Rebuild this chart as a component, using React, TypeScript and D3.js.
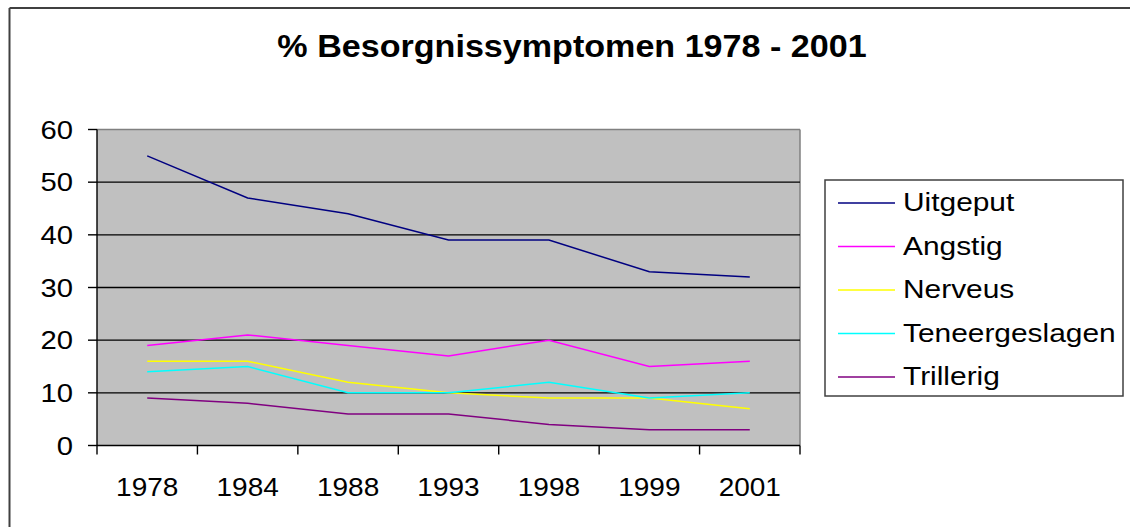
import React from "react";
import * as d3 from "d3";

const years = ["1978", "1984", "1988", "1993", "1998", "1999", "2001"];
const uitgeput = [55, 47, 44, 39, 39, 33, 32];
const angstig = [19, 21, 19, 17, 20, 15, 16];
const nerveus = [16, 16, 12, 10, 9, 9, 7];
const teneergeslagen = [14, 15, 10, 10, 12, 9, 10];
const trillerig = [9, 8, 6, 6, 4, 3, 3];
const yTicks = [0, 10, 20, 30, 40, 50, 60];
const seriesNames = ["Uitgeput", "Angstig", "Nerveus", "Teneergeslagen", "Trillerig"];
const seriesColors = ["#000080", "#FF00FF", "#FFFF00", "#00FFFF", "#800080"];
const title = "% Besorgnissymptomen 1978 - 2001";

const seriesValues = [uitgeput, angstig, nerveus, teneergeslagen, trillerig];

const W = 1130;
const H = 527;
const plot = { left: 97, right: 800, top: 129.5, bottom: 445.5 };
const FONT = "'Liberation Sans', Arial, sans-serif";
const SX = 1.14;

function SText(props: {
  x: number;
  y: number;
  size: number;
  anchor?: string;
  weight?: string | number;
  children: React.ReactNode;
  sx?: number;
}) {
  const { x, y, size, anchor = "start", weight = "normal", children, sx = SX } = props;
  return (
    <text
      transform={`translate(${x},${y}) scale(${sx},1)`}
      fontFamily={FONT}
      fontSize={size}
      fontWeight={weight}
      textAnchor={anchor as any}
      fill="#000"
    >
      {children}
    </text>
  );
}

export default function App() {
  const x = d3.scaleBand<string>().domain(years).range([plot.left, plot.right]).padding(0);
  const y = d3.scaleLinear().domain([0, 60]).range([plot.bottom, plot.top]);
  const cx = (yr: string) => (x(yr) as number) + x.bandwidth() / 2;

  const line = d3
    .line<number>()
    .x((_, i) => cx(years[i]))
    .y((v) => y(v));

  const boundaries = years.map((yr) => x(yr) as number).concat([plot.right]);

  const legend = { x: 825, y: 180, w: 298, h: 216, rowY0: 203, rowStep: 43.5 };

  return (
    <svg
      width={W}
      height={H}
      style={{ position: "absolute", left: 0, top: 0, background: "#fff" }}
    >
      {/* outer frame */}
      <line x1={9.5} y1={8} x2={W} y2={8} stroke="#404040" strokeWidth={2} />
      <line x1={9.5} y1={8} x2={9.5} y2={H} stroke="#404040" strokeWidth={2} />

      {/* title */}
      <SText x={572} y={57} size={31} anchor="middle" weight="bold" sx={1.1}>
        {title}
      </SText>

      {/* plot background */}
      <rect
        x={plot.left}
        y={plot.top}
        width={plot.right - plot.left}
        height={plot.bottom - plot.top}
        fill="#C0C0C0"
      />
      <line x1={plot.left} y1={plot.top} x2={plot.right} y2={plot.top} stroke="#808080" strokeWidth={1.5} />
      <line x1={plot.right} y1={plot.top} x2={plot.right} y2={plot.bottom} stroke="#808080" strokeWidth={1.5} />

      {/* gridlines */}
      {yTicks
        .filter((t) => t > 0 && t < 60)
        .map((t) => (
          <line key={t} x1={plot.left} x2={plot.right} y1={y(t)} y2={y(t)} stroke="#000" strokeWidth={1.4} />
        ))}

      {/* y axis */}
      <line x1={plot.left} x2={plot.left} y1={plot.top} y2={plot.bottom} stroke="#000" strokeWidth={1.4} />
      {yTicks.map((t) => (
        <g key={t}>
          <line x1={plot.left - 9} x2={plot.left} y1={y(t)} y2={y(t)} stroke="#000" strokeWidth={1.4} />
          <SText x={73} y={y(t) + 9} size={25} anchor="end" sx={1.17}>
            {String(t)}
          </SText>
        </g>
      ))}

      {/* x axis */}
      <line x1={plot.left} x2={plot.right} y1={plot.bottom} y2={plot.bottom} stroke="#000" strokeWidth={1.4} />
      {boundaries.map((b, i) => (
        <line key={i} x1={b} x2={b} y1={plot.bottom} y2={plot.bottom + 9} stroke="#000" strokeWidth={1.4} />
      ))}
      {years.map((yr) => (
        <SText key={yr} x={cx(yr)} y={496} size={25} anchor="middle" sx={1.12}>
          {yr}
        </SText>
      ))}

      {/* series */}
      {seriesValues.map((vals, i) => (
        <path key={seriesNames[i]} d={line(vals) || ""} fill="none" stroke={seriesColors[i]} strokeWidth={1.5} />
      ))}

      {/* legend */}
      <rect x={legend.x} y={legend.y} width={legend.w} height={legend.h} fill="#fff" stroke="#404040" strokeWidth={1.5} />
      {seriesNames.map((name, i) => {
        const ry = legend.rowY0 + i * legend.rowStep;
        return (
          <g key={name}>
            <line x1={838} x2={895} y1={ry} y2={ry} stroke={seriesColors[i]} strokeWidth={1.5} />
            <SText x={903} y={ry + 8} size={26} anchor="start" sx={1.15}>
              {name}
            </SText>
          </g>
        );
      })}
    </svg>
  );
}
